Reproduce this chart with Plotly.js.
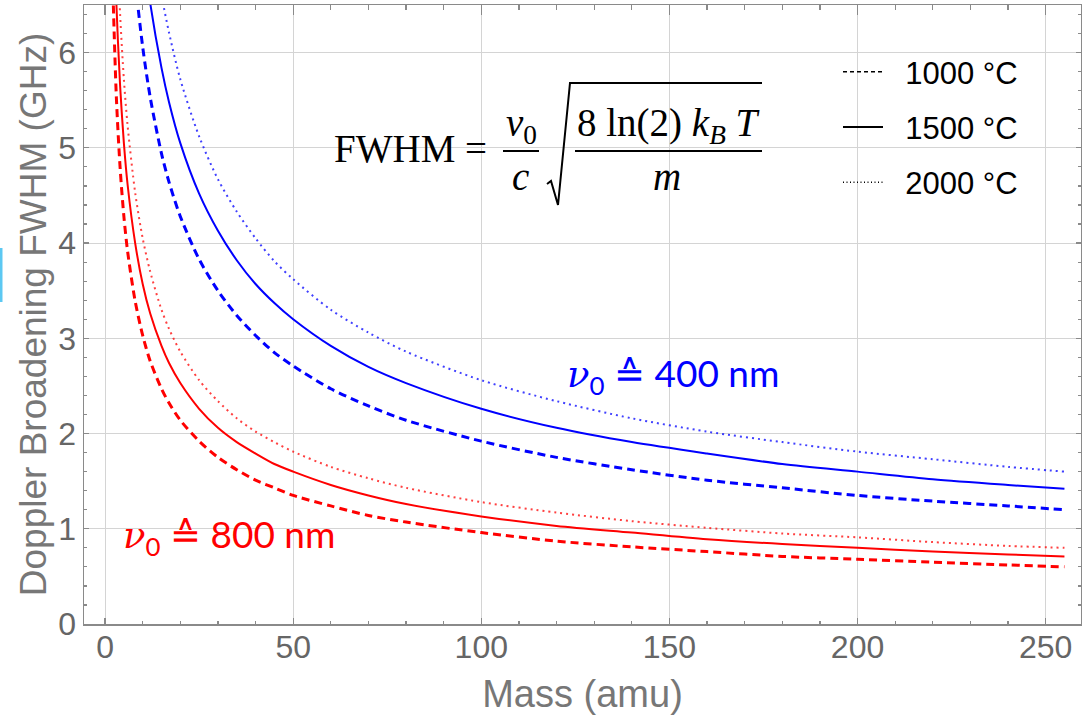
<!DOCTYPE html>
<html>
<head>
<meta charset="utf-8">
<script src="https://cdn.plot.ly/plotly-3.0.1.min.js"></script>
<style>html,body{margin:0;padding:0;background:#fff;}#plot{width:1082px;height:715px;}</style>
</head>
<body>
<div id="plot"></div>
<script>
const mass = [2,3,4,5,6,8,10,12,15,17,20,25,30,35,40,45,50,60,70,80,100,120,140,160,180,200,220,240,255];

// nu0 = 400 nm (blue), FWHM in GHz
const blue1000 = [13.54,11.06,9.58,8.56,7.82,6.77,6.06,5.53,4.94,4.64,4.28,3.83,3.50,3.24,3.03,2.85,2.71,2.47,2.29,2.14,1.92,1.75,1.62,1.51,1.43,1.35,1.29,1.24,1.20];
const blue1500 = [15.98,13.05,11.30,10.11,9.23,7.99,7.15,6.52,5.84,5.48,5.05,4.52,4.13,3.82,3.57,3.37,3.20,2.92,2.70,2.53,2.26,2.06,1.91,1.79,1.68,1.60,1.52,1.46,1.42];
const blue2000 = [18.10,14.77,12.80,11.44,10.45,9.05,8.09,7.39,6.61,6.21,5.72,5.12,4.67,4.33,4.05,3.81,3.62,3.30,3.06,2.86,2.56,2.34,2.16,2.02,1.91,1.81,1.73,1.65,1.60];

// nu0 = 800 nm (red), FWHM in GHz
const red1000 = [6.77,5.53,4.79,4.28,3.91,3.39,3.03,2.76,2.47,2.32,2.14,1.92,1.75,1.62,1.51,1.43,1.35,1.24,1.14,1.07,0.96,0.87,0.81,0.76,0.71,0.68,0.65,0.62,0.60];
const red1500 = [7.99,6.52,5.65,5.05,4.61,4.00,3.57,3.26,2.92,2.74,2.53,2.26,2.06,1.91,1.79,1.68,1.60,1.46,1.35,1.26,1.13,1.03,0.96,0.89,0.84,0.80,0.76,0.73,0.71];
const red2000 = [9.05,7.39,6.40,5.72,5.23,4.53,4.05,3.70,3.30,3.10,2.86,2.56,2.34,2.16,2.02,1.91,1.81,1.65,1.53,1.43,1.28,1.17,1.08,1.01,0.95,0.91,0.86,0.82,0.80];

const tempLabels = ["1000 °C","1500 °C","2000 °C"];
const xTicks = [0,50,100,150,200,250];
const yTicks = [0,1,2,3,4,5,6];

const BLUE = "#0000ff", RED = "#ff0000";
const DASH = "8px,5px", DOT = "2px,4px";

function curve(y, color, dash, width, opacity){
  return {x: mass, y: y, type:"scatter", mode:"lines", showlegend:false, hoverinfo:"skip",
          opacity: opacity || 1,
          line:{color:color, dash:dash, width:width, shape:"spline", smoothing:0.8}};
}

const traces = [
  curve(red1000, RED, DASH, 3),
  curve(red2000, RED, DOT, 2, 0.75),
  curve(red1500, RED, "solid", 2),
  curve(blue1000, BLUE, DASH, 3),
  curve(blue2000, BLUE, DOT, 2, 0.75),
  curve(blue1500, BLUE, "solid", 2),
];
// legend entries (black samples)
[["4px,3px",1.5],["solid",2],["1px,2.5px",1.3]].forEach((d,i)=>{
  traces.push({x:[null], y:[null], type:"scatter", mode:"lines", name: "&nbsp;&nbsp;" + tempLabels[i],
    legendgroup:"g"+i, showlegend:true, line:{color:"#000", dash:d[0], width:d[1]}});
});
// carrier trace for the top tick axis
traces.push({x:[null], y:[null], xaxis:"x2", yaxis:"y", type:"scatter", mode:"lines", showlegend:false, hoverinfo:"skip"});

// plot-area pixel helpers for decorations
const L=84, R=1081, T=5, B=624;
const px = x => (x-L)/(R-L);
const py = y => (B-y)/(B-T);

const serif = "Liberation Serif, DejaVu Serif, serif";
const eqFont = {family: serif, size: 39, color:"#000"};

const annotations = [
  {text:"FWHM =", x:px(410), y:py(148), xref:"paper", yref:"paper", showarrow:false, xanchor:"center", yanchor:"middle", font:eqFont},
  {text:"<i>ν</i><sub>0</sub>", x:px(521), y:py(126), xref:"paper", yref:"paper", showarrow:false, xanchor:"center", yanchor:"middle", font:eqFont},
  {text:"<i>c</i>", x:px(520), y:py(176), xref:"paper", yref:"paper", showarrow:false, xanchor:"center", yanchor:"middle", font:eqFont},
  {text:"8 ln(2) <i>k</i><sub><i>B</i></sub> <i>T</i>", x:px(668), y:py(126), xref:"paper", yref:"paper", showarrow:false, xanchor:"center", yanchor:"middle", font:eqFont},
  {text:"<i>m</i>", x:px(667), y:py(176), xref:"paper", yref:"paper", showarrow:false, xanchor:"center", yanchor:"middle", font:eqFont},
  {text:"<span style='font-family:DejaVu Serif'><i>ν</i></span><sub>0</sub> ≙ 400 nm", x:px(565), y:py(376), xref:"paper", yref:"paper", showarrow:false, xanchor:"left", yanchor:"middle", font:{family:"Lato, Liberation Sans, sans-serif", size:37, color:BLUE}},
  {text:"<span style='font-family:DejaVu Serif'><i>ν</i></span><sub>0</sub> ≙ 800 nm", x:px(121), y:py(536), xref:"paper", yref:"paper", showarrow:false, xanchor:"left", yanchor:"middle", font:{family:"Lato, Liberation Sans, sans-serif", size:37, color:RED}},
];

const shapes = [
  {type:"rect", xref:"paper", yref:"paper", x0:px(323), x1:px(774), y0:py(207), y1:py(73), fillcolor:"#fff", line:{width:0}, layer:"below"},
  {type:"line", xref:"paper", yref:"paper", x0:px(503), x1:px(539), y0:py(151), y1:py(151), line:{color:"#000", width:2}},
  {type:"line", xref:"paper", yref:"paper", x0:px(575), x1:px(762), y0:py(151), y1:py(151), line:{color:"#000", width:2}},
  {type:"path", xref:"paper", yref:"paper",
   path:`M${px(547)},${py(184)} L${px(551)},${py(181)} L${px(558)},${py(205)} L${px(570)},${py(83)} L${px(762)},${py(83)}`,
   line:{color:"#000", width:2}},
  {type:"rect", xref:"paper", yref:"paper", x0:px(0), x1:px(2.5), y0:py(302), y1:py(248), fillcolor:"#5cc8f2", line:{width:0}, layer:"above"},
];

const tickFont = {family:"Liberation Sans, Arial, sans-serif", size:32, color:"#666"};
const titleFont = {family:"Liberation Sans, Arial, sans-serif", size:38, color:"#777"};
const X_RANGE = [-5.6, 259.4];

const layout = {
  width:1082, height:715,
  margin:{l:L, r:1082-R, t:T, b:715-B},
  paper_bgcolor:"#fff", plot_bgcolor:"#fff",
  showlegend:true,
  legend:{x:px(838), y:py(45), xanchor:"left", yanchor:"top", bgcolor:"rgba(0,0,0,0)",
          font:{family:"Liberation Sans, Arial, sans-serif", size:31, color:"#000"},
          tracegroupgap:12, itemwidth:40},
  xaxis: {
    range:X_RANGE, tickvals:xTicks, ticktext:xTicks.map(String),
    showline:true, linecolor:"#8a8a8a", linewidth:1.5, mirror:true,
    ticks:"inside", tickcolor:"#8a8a8a", ticklen:6, tickwidth:1.2,
    showgrid:true, gridcolor:"#d4d4d4", gridwidth:1, zeroline:false,
    tickfont:tickFont, ticklabelstandoff:-6,
    minor:{dtick:10, tick0:0, ticks:"inside", ticklen:3, tickcolor:"#8a8a8a", showgrid:false},
    title:{text:"Mass (amu)", font:titleFont, standoff:18},
  },
  xaxis2: {
    overlaying:"x", side:"top", anchor:"y", range:X_RANGE, tickvals:xTicks,
    showticklabels:false, showline:false, showgrid:false, zeroline:false,
    ticks:"inside", tickcolor:"#8a8a8a", ticklen:10, tickwidth:1.2,
    minor:{dtick:10, tick0:0, ticks:"inside", ticklen:5, tickcolor:"#8a8a8a", showgrid:false},
  },
  yaxis: {
    range:[0, 6.5], tickvals:yTicks, ticktext:yTicks.map(String),
    showline:true, linecolor:"#8a8a8a", linewidth:1.5, mirror:"ticks",
    ticks:"inside", tickcolor:"#8a8a8a", ticklen:5, tickwidth:1.2,
    showgrid:true, gridcolor:"#d4d4d4", gridwidth:1, zeroline:false,
    tickfont:tickFont,
    minor:{dtick:0.2, tick0:0, ticks:"inside", ticklen:3, tickcolor:"#8a8a8a", showgrid:false},
    title:{text:"Doppler Broadening FWHM (GHz)", font:{family:"Liberation Sans, Arial, sans-serif", size:37, color:"#777"}, standoff:0},
  },
  annotations: annotations,
  shapes: shapes,
};

Plotly.newPlot("plot", traces, layout, {staticPlot:true, displayModeBar:false});
</script>
</body>
</html>
